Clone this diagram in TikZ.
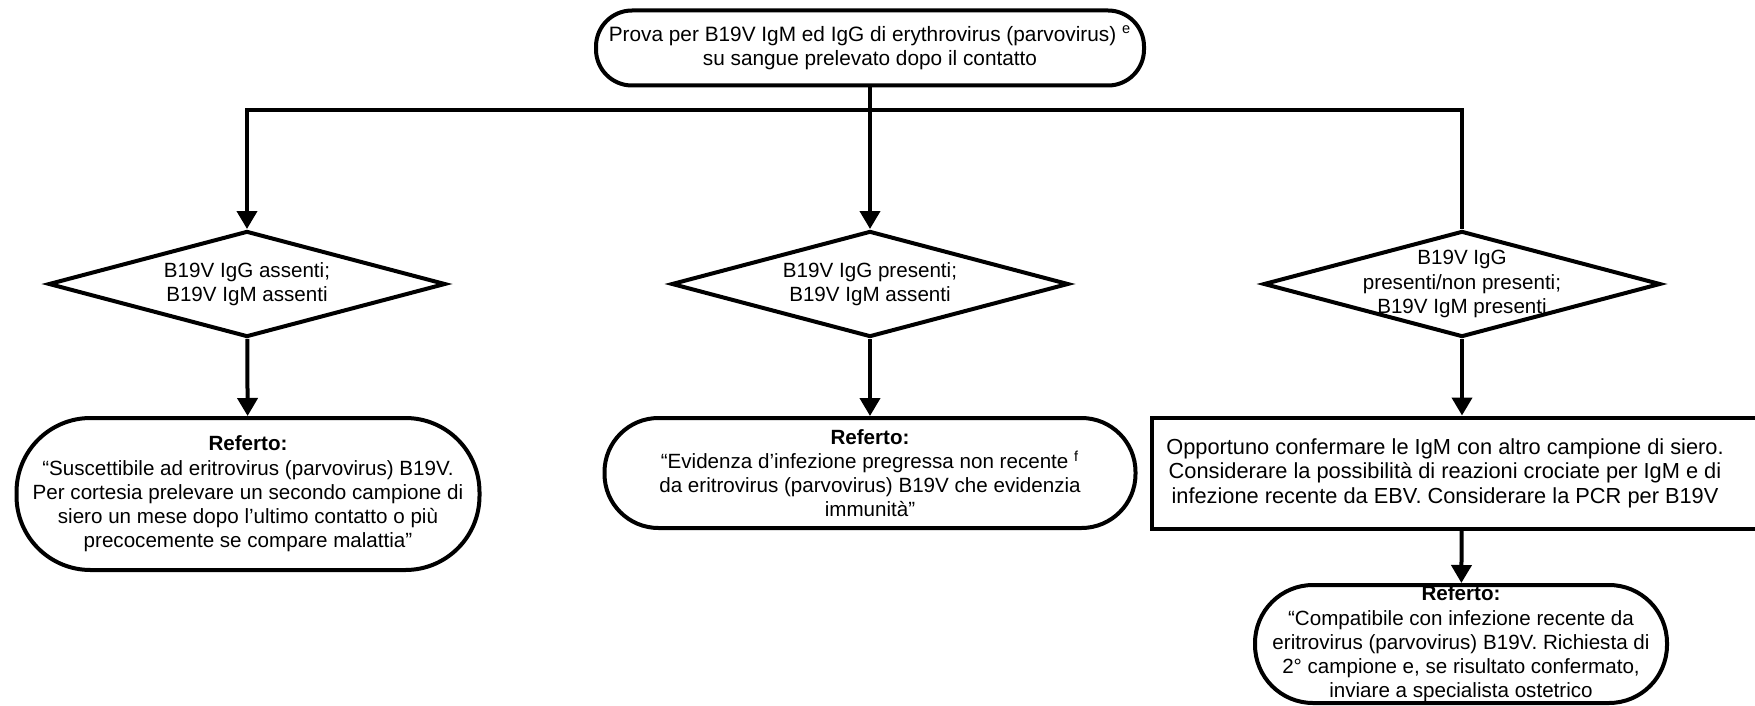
\documentclass[tikz,border=0pt]{standalone}
\usepackage{fontspec}
\setmainfont{Liberation Sans}
\usetikzlibrary{shapes.geometric,arrows.meta}
\begin{document}
\begin{tikzpicture}
        [x=0.5pt, y=-0.5pt,
        txt/.style={align=center, font=\fontsize{10.3}{12.1}\selectfont},
        terminal/.style={rectangle, draw, line width=2pt, rounded corners=#1, inner sep=0pt, txt},
        decision/.style={diamond, draw, line width=2pt, inner sep=0pt, minimum width=198.5pt, minimum height=53pt},
        action/.style={rectangle, draw, line width=2pt, inner sep=0pt, minimum width=310pt, minimum height=55.5pt},
        link/.style={line width=2pt, -{Triangle[width=10pt,length=9pt]}}]
        \useasboundingbox (0,0) rectangle (1755,706);
        \clip (0,0) rectangle (1755,706);

        \node[terminal=18pt, minimum width=274pt, minimum height=37.5pt, font=\fontsize{10.4}{12.2}\selectfont] (test) at (870,48)
            {Prova per B19V IgM ed IgG di erythrovirus (parvovirus) \textsuperscript{e}\\su sangue prelevato dopo il contatto};
        \coordinate (bar) at (870,110);

        \node[decision, label={[txt]center:B19V IgG assenti;\\B19V IgM assenti}] (neg) at (247,284) {};
        \node[decision, label={[txt]center:B19V IgG presenti;\\B19V IgM assenti}] (past) at (870,284) {};
        \node[decision, label={[txt]center:B19V IgG\\presenti/non presenti;\\B19V IgM presenti}] (igm) at (1462,284) {};

        \node[terminal=37pt, minimum width=231.5pt, minimum height=76pt] (repNeg) at (248,494)
            {\textbf{Referto:}\\“Suscettibile ad eritrovirus (parvovirus) B19V.\\Per cortesia prelevare un secondo campione di\\siero un mese dopo l’ultimo contatto o più\\precocemente se compare malattia”};
        \node[terminal=27pt, minimum width=265.5pt, minimum height=55pt] (repPast) at (870,473)
            {\textbf{Referto:}\\“Evidenza d’infezione pregressa non recente \textsuperscript{f}\\da eritrovirus (parvovirus) B19V che evidenzia\\immunità”};
        \node[action, label={[txt, font=\fontsize{10.9}{12.3}\selectfont, xshift=-8.5pt]center:Opportuno confermare le IgM con altro campione di siero.\\Considerare la possibilità di reazioni crociate per IgM e di\\infezione recente da EBV. Considerare la PCR per B19V}] (confirm) at (1462,473) {};
        \node[terminal=29pt, minimum width=206pt, minimum height=59pt] (repIgm) at (1461,644)
            {\textbf{Referto:}\\“Compatibile con infezione recente da\\eritrovirus (parvovirus) B19V. Richiesta di\\2° campione e, se risultato confermato,\\inviare a specialista ostetrico};

        \draw[line width=2pt] (test) -- (bar);
        \draw[link] (test) -- (past);
        \draw[link, {Triangle[width=10pt,length=9pt]}-] (neg) |- (bar) -| (igm);
        \draw[link] (neg) -- (repNeg);
        \draw[link] (past) -- (repPast);
        \draw[link] (igm) -- (confirm);
        \draw[link] (confirm) -- (repIgm);

    \end{tikzpicture}
\end{document}
